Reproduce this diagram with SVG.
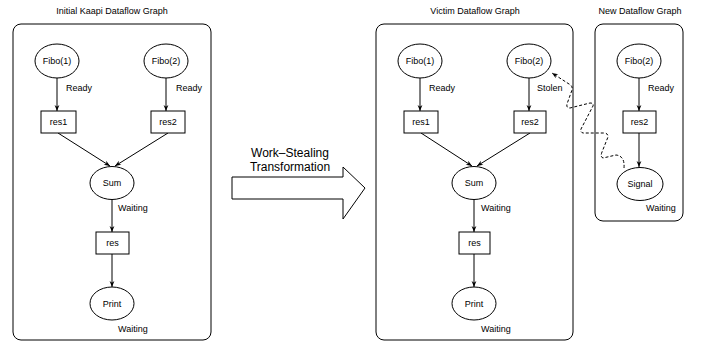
<svg xmlns="http://www.w3.org/2000/svg" width="706" height="343" viewBox="0 0 706 343">
  <style>
    text { font-family: "Liberation Sans", Arial, sans-serif; font-size: 9px; fill: #000; }
    .title { text-anchor: middle; }
    .lbl { text-anchor: middle; }
    .panel { fill: none; stroke: #000; stroke-width: 1; }
    .task { fill: #fff; stroke: #000; stroke-width: 1; }
    .data { fill: #fff; stroke: #000; stroke-width: 1; }
    .edge { fill: none; stroke: #000; stroke-width: 1; marker-end: url(#head); }
    .steal { fill: none; stroke: #000; stroke-width: 1; stroke-dasharray: 3 2; marker-end: url(#head); }
    .big { font-size: 12px; text-anchor: middle; }
  </style>
  <defs>
    <marker id="head" viewBox="0 0 10 10" refX="10" refY="5" markerWidth="7" markerHeight="6" markerUnits="userSpaceOnUse" orient="auto">
      <path d="M0,1 L10,5 L0,9 L3,5 Z" fill="#000"/>
    </marker>
  </defs>
  <rect width="706" height="343" fill="#fff"/>

  <!-- panel frames and titles -->
  <g id="panel-initial">
    <text class="title" x="112" y="14">Initial Kaapi Dataflow Graph</text>
    <rect class="panel" x="13" y="24" width="198" height="316" rx="8"/>
  </g>
  <g id="panel-victim">
    <text class="title" x="475" y="14">Victim Dataflow Graph</text>
    <rect class="panel" x="376" y="24" width="197" height="316" rx="8"/>
  </g>
  <g id="panel-new">
    <text class="title" x="640" y="14">New Dataflow Graph</text>
    <rect class="panel" x="595" y="24" width="88" height="197" rx="8"/>
  </g>

  <!-- connectors -->
  <g id="connectors">
    <!-- initial graph -->
    <line class="edge" x1="57" y1="78" x2="57" y2="111"/>
    <line class="edge" x1="166" y1="78" x2="166" y2="111"/>
    <line class="edge" x1="58" y1="133" x2="110" y2="166"/>
    <line class="edge" x1="168" y1="133" x2="115" y2="166"/>
    <line class="edge" x1="112" y1="199" x2="112" y2="232"/>
    <line class="edge" x1="112" y1="254" x2="112" y2="287"/>
    <!-- victim graph -->
    <line class="edge" x1="420" y1="78" x2="420" y2="111"/>
    <line class="edge" x1="529" y1="78" x2="529" y2="111"/>
    <line class="edge" x1="421" y1="133" x2="472" y2="166"/>
    <line class="edge" x1="530" y1="133" x2="477" y2="166"/>
    <line class="edge" x1="474" y1="199" x2="474" y2="232"/>
    <line class="edge" x1="474" y1="254" x2="474" y2="287"/>
    <!-- new graph -->
    <line class="edge" x1="639" y1="78" x2="639" y2="111"/>
    <line class="edge" x1="639" y1="133" x2="639" y2="167"/>
    <!-- steal link from Signal back to the stolen task -->
    <path class="steal" d="M624,168 Q625,156 616,155 L603,158 Q600,157 602,152 L608,137 Q608,133 604,133 L583,133 Q580,132 581,129 L593,106 Q594,103 590,103 L570,108 Q566,108 567,104 L572,90 Q573,86 569,84 L552,73"/>
  </g>

  <!-- initial graph nodes -->
  <g id="init-fibo1"><ellipse class="task" cx="57" cy="61" rx="22" ry="17"/><text class="lbl" x="57" y="64">Fibo(1)</text><text x="66" y="91">Ready</text></g>
  <g id="init-fibo2"><ellipse class="task" cx="166" cy="61" rx="22" ry="17"/><text class="lbl" x="166" y="64">Fibo(2)</text><text x="176" y="91">Ready</text></g>
  <g id="init-res1"><rect class="data" x="41" y="111" width="35" height="22"/><text class="lbl" x="58.5" y="125">res1</text></g>
  <g id="init-res2"><rect class="data" x="151" y="111" width="34" height="22"/><text class="lbl" x="168" y="125">res2</text></g>
  <g id="init-sum"><ellipse class="task" cx="112" cy="183" rx="22" ry="16.5"/><text class="lbl" x="112" y="186">Sum</text><text x="118" y="211">Waiting</text></g>
  <g id="init-res"><rect class="data" x="96" y="232" width="33" height="22"/><text class="lbl" x="112.5" y="246">res</text></g>
  <g id="init-print"><ellipse class="task" cx="112" cy="303.5" rx="22" ry="16.5"/><text class="lbl" x="112" y="306.5">Print</text><text x="118" y="332">Waiting</text></g>

  <!-- transformation arrow -->
  <g id="transform">
    <path d="M232,177 L343,177 L343,167 L365,188 L343,219 L343,199 L232,199 Z" fill="#fff" stroke="#000" stroke-width="1"/>
    <text class="big" x="290" y="157">Work–Stealing</text>
    <text class="big" x="290" y="171">Transformation</text>
  </g>

  <!-- victim graph nodes -->
  <g id="vic-fibo1"><ellipse class="task" cx="420" cy="61" rx="22" ry="17"/><text class="lbl" x="420" y="64">Fibo(1)</text><text x="429" y="91">Ready</text></g>
  <g id="vic-fibo2"><ellipse class="task" cx="529" cy="61" rx="22" ry="17"/><text class="lbl" x="529" y="64">Fibo(2)</text><text x="537" y="91">Stolen</text></g>
  <g id="vic-res1"><rect class="data" x="404" y="111" width="34" height="22"/><text class="lbl" x="421" y="125">res1</text></g>
  <g id="vic-res2"><rect class="data" x="514" y="111" width="32" height="22"/><text class="lbl" x="530" y="125">res2</text></g>
  <g id="vic-sum"><ellipse class="task" cx="474" cy="183" rx="22" ry="16.5"/><text class="lbl" x="474" y="186">Sum</text><text x="481" y="211">Waiting</text></g>
  <g id="vic-res"><rect class="data" x="459" y="232" width="31" height="22"/><text class="lbl" x="474.5" y="246">res</text></g>
  <g id="vic-print"><ellipse class="task" cx="474" cy="303.5" rx="22" ry="16.5"/><text class="lbl" x="474" y="306.5">Print</text><text x="481" y="332">Waiting</text></g>

  <!-- new graph nodes -->
  <g id="new-fibo2"><ellipse class="task" cx="639" cy="61" rx="22" ry="17"/><text class="lbl" x="639" y="64">Fibo(2)</text><text x="648" y="91">Ready</text></g>
  <g id="new-res2"><rect class="data" x="623" y="111" width="33" height="22"/><text class="lbl" x="639.5" y="125">res2</text></g>
  <g id="new-signal"><ellipse class="task" cx="640" cy="184" rx="23" ry="16.5"/><text class="lbl" x="640" y="187">Signal</text><text x="646" y="211">Waiting</text></g>
</svg>
